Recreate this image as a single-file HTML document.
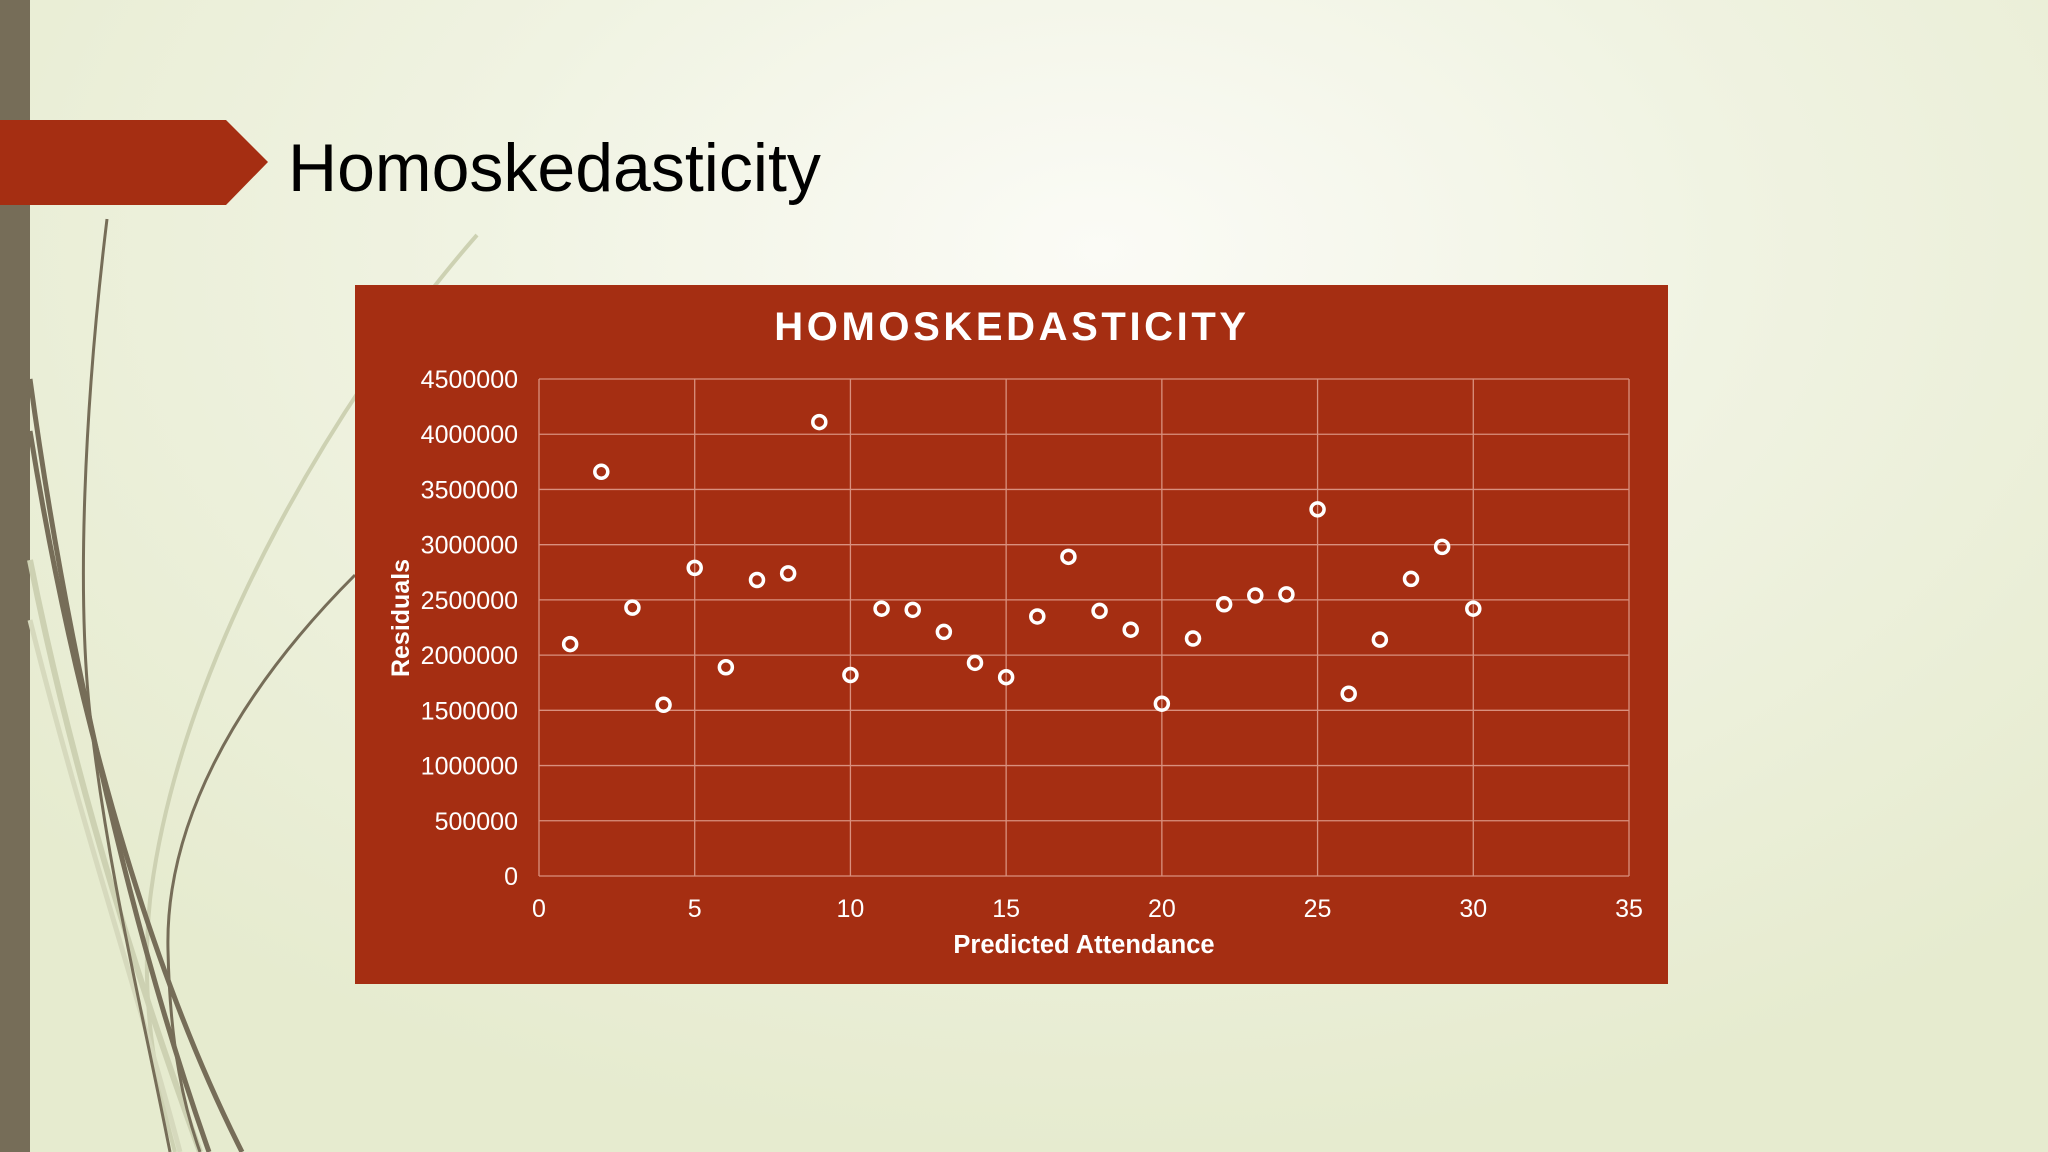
<!DOCTYPE html>
<html><head><meta charset="utf-8">
<style>
html,body{margin:0;padding:0}
body{width:2048px;height:1152px;overflow:hidden;position:relative;font-family:"Liberation Sans",sans-serif;
background:radial-gradient(ellipse 1400px 900px at 1100px 250px,#fbfbf6 0%,#f0f3e2 45%,#e6ebcf 100%);}
#leftbar{position:absolute;left:0;top:0;width:30px;height:1152px;background:#766d58}
#title{position:absolute;left:288px;top:128px;font-size:68px;color:#000;line-height:80px}
</style></head><body>
<div id="leftbar"></div>
<svg width="2048" height="1152" style="position:absolute;left:0;top:0">
<path d="M477,235 C350,380 180,650 150,900 C140,1000 155,1080 175,1152" stroke="#cdd1b2" stroke-width="4" fill="none"/>
<path d="M30,560 C70,760 130,960 200,1152" stroke="#cdd1b2" stroke-width="6" fill="none"/>
<path d="M30,620 C80,820 140,1000 180,1152" stroke="#d6d9bd" stroke-width="5" fill="none"/>
<path d="M107,219 C85,400 75,600 92,731 C110,880 140,1000 170,1152" stroke="#766d58" stroke-width="3" fill="none"/>
<path d="M30,379 C60,600 120,900 209,1152" stroke="#766d58" stroke-width="5" fill="none"/>
<path d="M30,431 C70,680 140,950 242,1152" stroke="#766d58" stroke-width="5" fill="none"/>
<path d="M355,575 C230,700 165,830 168,950 C170,1050 185,1110 200,1152" stroke="#766d58" stroke-width="3" fill="none"/>
</svg>
<svg width="270" height="90" style="position:absolute;left:0;top:120px">
<polygon points="0,0 226,0 268,42 226,85 0,85" fill="#a52e12"/>
</svg>
<div id="title">Homoskedasticity</div>
<svg id="chart" width="2048" height="1152" style="position:absolute;left:0;top:0"></svg>
<script>
const xTicks=[0,5,10,15,20,25,30,35];
const yTicks=[0,500000,1000000,1500000,2000000,2500000,3000000,3500000,4000000,4500000];
const xValues=[1,2,3,4,5,6,7,8,9,10,11,12,13,14,15,16,17,18,19,20,21,22,23,24,25,26,27,28,29,30];
const residuals=[2100000,3660000,2430000,1550000,2790000,1890000,2680000,2740000,4110000,1820000,2420000,2410000,2210000,1930000,1800000,2350000,2890000,2400000,2230000,1560000,2150000,2460000,2540000,2550000,3320000,1650000,2140000,2690000,2980000,2420000];
const NS='http://www.w3.org/2000/svg';
const svg=document.getElementById('chart');
const L=539,R=1629,T=379,B=876;
const sx=v=>L+(v-0)/(35-0)*(R-L);
const sy=v=>B-(v/4500000)*(B-T);
function mk(tag,attrs,parent){const e=document.createElementNS(NS,tag);for(const k in attrs)e.setAttribute(k,attrs[k]);(parent||svg).appendChild(e);return e;}
const bg=mk('rect',{x:355,y:285,width:1313,height:699,fill:'#a52e12'});


const ct=mk('text',{x:1012,y:340,'text-anchor':'middle','font-size':40,'font-weight':'bold',fill:'#fff','letter-spacing':'3.6'});
ct.textContent='HOMOSKEDASTICITY';


yTicks.forEach(v=>{
  const g=mk('line',{x1:L,x2:R,y1:sy(v),y2:sy(v),stroke:'#d9907e','stroke-width':1.3});
  
  
  const t=mk('text',{x:518,y:sy(v)+9,'text-anchor':'end','font-size':25,fill:'#fff'});
  t.textContent=v;
  
  
});
xTicks.forEach(v=>{
  const g=mk('line',{x1:sx(v),x2:sx(v),y1:T,y2:B,stroke:'#d9907e','stroke-width':1.3});
  
  
  const t=mk('text',{x:sx(v),y:917,'text-anchor':'middle','font-size':25,fill:'#fff'});
  t.textContent=v;
  
  
});
const xt=mk('text',{x:1084,y:953,'text-anchor':'middle','font-size':25.5,'font-weight':'bold',fill:'#fff'});
xt.textContent='Predicted Attendance';


const yt=mk('text',{x:0,y:0,'text-anchor':'middle','font-size':25,'font-weight':'bold',fill:'#fff',transform:'translate(409,618) rotate(-90)'});
yt.textContent='Residuals';


xValues.forEach((x,i)=>{
  const c=mk('circle',{cx:sx(x),cy:sy(residuals[i]),r:6.5,fill:'none',stroke:'#fff','stroke-width':3.5});
  
  
});
</script>
</body></html>
